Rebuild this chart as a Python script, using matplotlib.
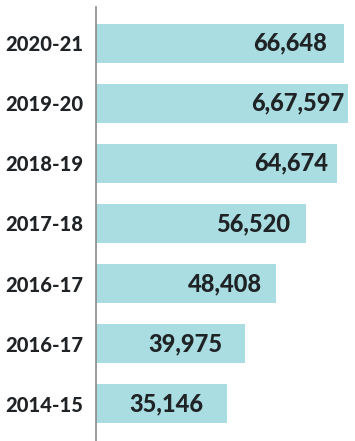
import matplotlib.pyplot as plt

# data (bottom to top)
years = ["2014-15", "2016-17", "2016-17", "2017-18", "2018-19", "2019-20", "2020-21"]
values = [35146, 39975, 48408, 56520, 64674, 67597, 66648]
value_labels = ["35,146", "39,975", "48,408", "56,520", "64,674", "6,67,597", "66,648"]

# label inset from bar end, in points
label_pad = [-17, -16, -10, -12, -6, -2, -12]

plt.rcParams["font.family"] = ["Lato", "DejaVu Sans"]

fig = plt.figure(figsize=(3.55, 4.41), dpi=100)
ax = fig.add_axes([96 / 355, 0, 1 - 96 / 355, 1 - 7 / 441])

pos = list(range(len(years)))
ax.barh(pos, values, height=0.65, color="#a9dde1")

for p, v, lab, pad in zip(pos, values, value_labels, label_pad):
    ax.annotate(lab, (v, p), xytext=(pad, 0), textcoords="offset points",
                ha="right", va="center", fontsize=17, fontweight="black",
                color="#1f2326")

ax.set_yticks(pos)
ax.set_yticklabels(years, fontsize=14.5, fontweight="black", color="#1f2326")
ax.tick_params(axis="y", length=0, pad=9)
ax.set_xticks([])
ax.set_xlim(0, 69605)
ax.set_ylim(-0.62, 6.6)

for s in ["top", "right", "bottom"]:
    ax.spines[s].set_visible(False)
ax.spines["left"].set_color("#8a8a8a")
ax.spines["left"].set_linewidth(1.2)

fig.savefig("out.png", dpi=100)
